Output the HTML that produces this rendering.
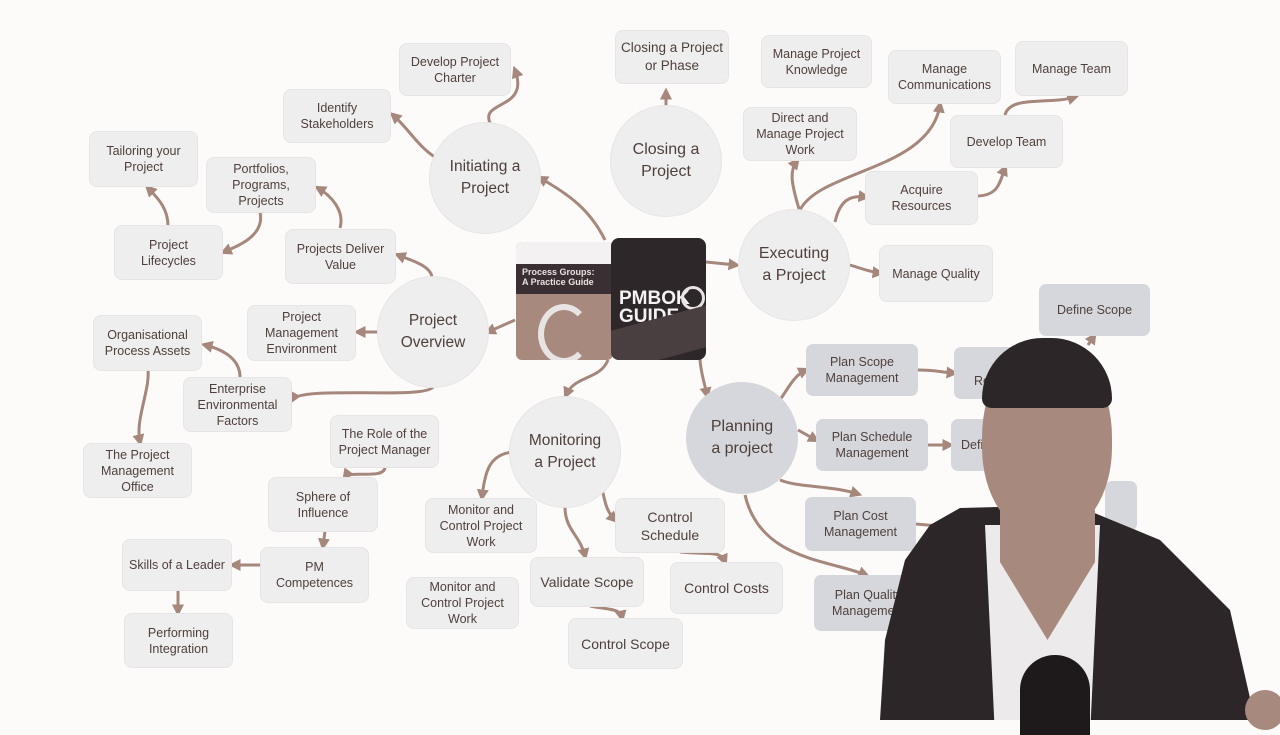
<!DOCTYPE html><html><head><meta charset="utf-8"><style>
body{margin:0;width:1280px;height:720px;background:#fdfbfa;position:relative;overflow:hidden;font-family:"Liberation Sans",sans-serif;color:#4e3f3b}
.b{position:absolute;background:#efeeee;border-radius:7px;display:flex;align-items:center;justify-content:center;text-align:center;font-size:12.5px;line-height:16px;box-shadow:0 0 0 1px #e6e4e4}
.d{background:#d6d7dc;box-shadow:none}
.c{position:absolute;border-radius:50%;background:#efeeee;display:flex;align-items:center;justify-content:center;text-align:center;font-size:15.5px;line-height:22px;box-shadow:0 0 0 1px #e6e4e4}
svg{position:absolute;left:0;top:0}
</style></head><body>
<svg width="1280" height="720">
<defs><marker id="a" markerWidth="4" markerHeight="4" refX="2.5" refY="2" orient="auto" markerUnits="strokeWidth"><path d="M0,0L4,2L0,4z" fill="#a5877c"/></marker></defs>
<g fill="none" stroke="#a5877c" stroke-width="3" marker-end="url(#a)">
<path d="M490,123 C480,100 530,110 515,70"/>
<path d="M440,160 C420,150 410,130 393,115"/>
<path d="M605,240 C590,210 570,195 540,178"/>
<path d="M666,106 L666,92"/>
<path d="M706,262 L736,265"/>
<path d="M700,358 C700,370 705,385 707,395"/>
<path d="M608,360 C600,380 575,375 566,395"/>
<path d="M515,320 L488,332"/>
<path d="M432,277 C430,265 410,260 398,255"/>
<path d="M340,228 C345,210 330,195 318,188"/>
<path d="M260,212 C265,235 240,245 224,252"/>
<path d="M168,226 C168,210 160,200 148,188"/>
<path d="M378,332 L358,332"/>
<path d="M240,377 C240,360 225,350 205,345"/>
<path d="M148,370 C150,390 135,420 140,442"/>
<path d="M433,387 C425,400 300,385 292,400"/>
<path d="M385,467 C385,480 350,470 345,477"/>
<path d="M325,531 L323,546"/>
<path d="M262,565 L233,565"/>
<path d="M178,590 L178,612"/>
<path d="M512,452 C490,455 485,470 482,497"/>
<path d="M565,507 C565,530 580,535 585,556"/>
<path d="M600,480 C605,500 605,510 615,520"/>
<path d="M680,552 C710,555 720,550 725,562"/>
<path d="M590,606 C610,610 620,608 622,618"/>
<path d="M800,212 C790,180 790,170 797,161"/>
<path d="M800,210 C820,170 930,170 940,105"/>
<path d="M835,222 C840,200 850,195 866,197"/>
<path d="M978,196 C1000,195 1000,180 1005,168"/>
<path d="M1005,115 C1010,95 1050,105 1075,97"/>
<path d="M850,265 C860,268 870,272 880,273"/>
<path d="M780,400 C790,385 795,375 806,370"/>
<path d="M918,370 C935,370 940,372 954,373"/>
<path d="M798,430 L816,440"/>
<path d="M928,445 L950,445"/>
<path d="M780,480 C800,488 830,485 858,494"/>
<path d="M916,524 L950,527"/>
<path d="M745,495 C760,560 830,560 866,575"/>
<path d="M1088,345 L1094,336"/>
</g></svg>
<div class="b" style="left:400px;top:44px;width:110px;height:51px">Develop Project<br>Charter</div>
<div class="b" style="left:284px;top:90px;width:106px;height:52px">Identify<br>Stakeholders</div>
<div class="b" style="left:90px;top:132px;width:107px;height:54px">Tailoring your<br>Project</div>
<div class="b" style="left:207px;top:158px;width:108px;height:54px">Portfolios,<br>Programs,<br>Projects</div>
<div class="b" style="left:115px;top:226px;width:107px;height:53px">Project<br>Lifecycles</div>
<div class="b" style="left:286px;top:230px;width:109px;height:53px">Projects Deliver<br>Value</div>
<div class="b" style="left:94px;top:316px;width:107px;height:54px">Organisational<br>Process Assets</div>
<div class="b" style="left:248px;top:306px;width:107px;height:54px">Project<br>Management<br>Environment</div>
<div class="b" style="left:184px;top:378px;width:107px;height:53px">Enterprise<br>Environmental<br>Factors</div>
<div class="b" style="left:84px;top:444px;width:107px;height:53px">The Project<br>Management<br>Office</div>
<div class="b" style="left:331px;top:416px;width:107px;height:51px">The Role of the<br>Project Manager</div>
<div class="b" style="left:269px;top:478px;width:108px;height:53px">Sphere of<br>Influence</div>
<div class="b" style="left:123px;top:540px;width:108px;height:50px">Skills of a Leader</div>
<div class="b" style="left:261px;top:548px;width:107px;height:54px">PM<br>Competences</div>
<div class="b" style="left:125px;top:614px;width:107px;height:53px">Performing<br>Integration</div>
<div class="b" style="left:426px;top:499px;width:110px;height:53px">Monitor and<br>Control Project<br>Work</div>
<div class="b" style="left:407px;top:578px;width:111px;height:50px">Monitor and<br>Control Project<br>Work</div>
<div class="b" style="left:531px;top:558px;width:112px;height:48px;font-size:14px">Validate Scope</div>
<div class="b" style="left:616px;top:499px;width:108px;height:53px;font-size:14px;line-height:18px">Control<br>Schedule</div>
<div class="b" style="left:671px;top:563px;width:111px;height:50px;font-size:14px">Control Costs</div>
<div class="b" style="left:569px;top:619px;width:113px;height:49px;font-size:14px">Control Scope</div>
<div class="b" style="left:616px;top:31px;width:112px;height:52px;font-size:13.5px;line-height:18px">Closing a Project<br>or Phase</div>
<div class="b" style="left:762px;top:36px;width:109px;height:51px">Manage Project<br>Knowledge</div>
<div class="b" style="left:744px;top:108px;width:112px;height:52px">Direct and<br>Manage Project<br>Work</div>
<div class="b" style="left:889px;top:51px;width:111px;height:52px">Manage<br>Communications</div>
<div class="b" style="left:1016px;top:42px;width:111px;height:53px">Manage Team</div>
<div class="b" style="left:951px;top:116px;width:111px;height:51px">Develop Team</div>
<div class="b" style="left:866px;top:172px;width:111px;height:52px">Acquire<br>Resources</div>
<div class="b" style="left:880px;top:246px;width:112px;height:55px">Manage Quality</div>
<div class="b d" style="left:1039px;top:284px;width:111px;height:52px">Define Scope</div>
<div class="b d" style="left:806px;top:344px;width:112px;height:52px">Plan Scope<br>Management</div>
<div class="b d" style="left:954px;top:347px;width:110px;height:52px;justify-content:flex-start;padding-left:20px;box-sizing:border-box">Collect<br>Requirements</div>
<div class="b d" style="left:816px;top:419px;width:112px;height:52px">Plan Schedule<br>Management</div>
<div class="b d" style="left:951px;top:419px;width:110px;height:52px;justify-content:flex-start;padding-left:10px;box-sizing:border-box">Define</div>
<div class="b d" style="left:1105px;top:481px;width:32px;height:50px"></div>
<div class="b d" style="left:805px;top:497px;width:111px;height:54px">Plan Cost<br>Management</div>
<div class="b d" style="left:936px;top:542px;width:40px;height:45px"></div>
<div class="b d" style="left:814px;top:575px;width:110px;height:56px;justify-content:flex-start;padding-left:18px;box-sizing:border-box">Plan Quality<br>Management</div>
<div class="c" style="left:430px;top:123px;width:110px;height:110px">Initiating a<br>Project</div>
<div class="c" style="left:611px;top:106px;width:110px;height:110px;font-size:16px">Closing a<br>Project</div>
<div class="c" style="left:739px;top:210px;width:110px;height:110px;font-size:16px">Executing<br>a Project</div>
<div class="c" style="left:378px;top:277px;width:110px;height:110px">Project<br>Overview</div>
<div class="c" style="left:510px;top:397px;width:110px;height:110px">Monitoring<br>a Project</div>
<div class="c" style="left:686px;top:382px;width:112px;height:112px;background:#d6d7dc;box-shadow:none;font-size:16px">Planning<br>a project</div>
<div style="position:absolute;left:516px;top:242px;width:97px;height:118px;background:#a8897e;border-radius:6px;overflow:hidden">
<div style="height:22px;background:#f3f1f1"></div><div style="height:30px;background:#3a3033;color:#e9e2e0;font-size:9px;font-weight:bold;padding:3px 6px;box-sizing:border-box">Process Groups:<br>A Practice Guide</div>
<div style="position:absolute;left:22px;top:62px;width:40px;height:48px;border-radius:50%;border:6px solid #e8e4e4;border-right-color:transparent"></div></div>
<div style="position:absolute;left:611px;top:238px;width:95px;height:122px;background:#2d272a;border-radius:8px;overflow:hidden;color:#f5f2f2">
<div style="position:absolute;left:8px;top:52px;font-size:19px;font-weight:bold;line-height:18px">PMBOK<br>GUIDE</div>
<div style="position:absolute;left:70px;top:48px;width:24px;height:24px;border-radius:50%;border:3px solid #e8e4e4;box-sizing:border-box"></div>
<div style="position:absolute;left:0;top:80px;width:95px;height:42px;background:#4a3f40;transform:skewY(-15deg)"></div></div>
<div style="position:absolute;left:0;top:0;width:1280px;height:720px;background:#2c2629;clip-path:polygon(960px 508px,1075px 505px,1160px 540px,1230px 610px,1255px 720px,880px 720px,885px 640px,905px 560px,930px 525px)"></div>
<div style="position:absolute;left:985px;top:525px;width:115px;height:195px;background:#eceaea;clip-path:polygon(0 0,100% 0,92% 100%,8% 100%)"></div>
<div style="position:absolute;left:1000px;top:510px;width:95px;height:130px;background:#a8897e;clip-path:polygon(0 0,100% 0,100% 40%,50% 100%,0 40%)"></div>
<div style="position:absolute;left:982px;top:340px;width:130px;height:195px;background:#a8897e;border-radius:50% 50% 45% 45%"></div>
<div style="position:absolute;left:982px;top:338px;width:130px;height:70px;background:#2c2629;border-radius:65px 65px 10px 10px"></div>
<div style="position:absolute;left:1020px;top:655px;width:70px;height:80px;background:#1e1a1c;border-radius:35px 35px 0 0"></div>
<div style="position:absolute;left:1245px;top:690px;width:40px;height:40px;background:#a8897e;border-radius:50%"></div>
</body></html>
